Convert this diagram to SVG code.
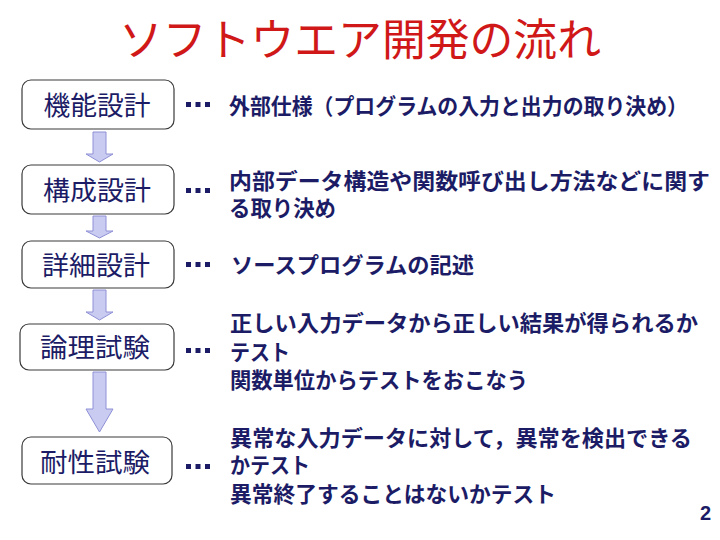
<svg xmlns="http://www.w3.org/2000/svg" width="720" height="540" viewBox="0 0 720 540">
<style>
.title{font-family:"Noto Sans CJK JP","Noto Sans",sans-serif;font-size:44px;fill:#d01818;}
.box{fill:#ffffff;stroke:#3a3a3a;stroke-width:1.2;}
.lbl{font-family:"Noto Sans CJK JP","Noto Sans",sans-serif;font-size:26.5px;fill:#1c1c66;text-anchor:middle;}
.desc{font-family:"Noto Sans CJK JP","Noto Sans",sans-serif;font-size:22px;font-weight:700;fill:#1c1c66;}
.dot{fill:#1c1c66;}
.arr{fill:#c9cbf1;stroke:#8e90d6;stroke-width:1;}
.pg{font-family:"Liberation Sans",Arial,sans-serif;font-size:20px;font-weight:700;fill:#1c1c66;}
</style>
<defs>
<g id="dots"><rect class="dot" x="0" y="0" width="5" height="5"/><rect class="dot" x="9.5" y="0" width="5" height="5"/><rect class="dot" x="19" y="0" width="5" height="5"/></g>
</defs>
<rect width="720" height="540" fill="#ffffff"/>
<text class="title" x="119" y="56" textLength="482" lengthAdjust="spacingAndGlyphs">ソフトウエア開発の流れ</text>

<g id="connectors">
<polygon class="arr" points="93,132 106,132 106,154 113,154 99.5,162 86,154 93,154"/>
<polygon class="arr" points="93,216 106,216 106,231 113,231 99.5,238 86,231 93,231"/>
<polygon class="arr" points="93,290 106,290 106,312 113,312 99.5,320 86,312 93,312"/>
<polygon class="arr" points="93,372 106,372 106,409 113,409 99.5,432 86,409 93,409"/>
</g>

<g id="node1">
<rect class="box" x="22" y="80" width="152" height="49" rx="9"/>
<text class="lbl" x="97" y="115" textLength="107" lengthAdjust="spacingAndGlyphs">機能設計</text>
</g>
<g id="node2">
<rect class="box" x="22" y="165" width="152" height="49" rx="9"/>
<text class="lbl" x="97" y="200" textLength="108" lengthAdjust="spacingAndGlyphs">構成設計</text>
</g>
<g id="node3">
<rect class="box" x="22" y="241" width="152" height="47" rx="9"/>
<text class="lbl" x="96" y="275" textLength="108" lengthAdjust="spacingAndGlyphs">詳細設計</text>
</g>
<g id="node4">
<rect class="box" x="20" y="324" width="154" height="46" rx="9"/>
<text class="lbl" x="95" y="357" textLength="110" lengthAdjust="spacingAndGlyphs">論理試験</text>
</g>
<g id="node5">
<rect class="box" x="22" y="437" width="150" height="47" rx="9"/>
<text class="lbl" x="95" y="472" textLength="110" lengthAdjust="spacingAndGlyphs">耐性試験</text>
</g>

<g id="desc1">
<use href="#dots" x="186" y="102"/>
<text class="desc" x="229" y="114" textLength="459" lengthAdjust="spacingAndGlyphs">外部仕様（プログラムの入力と出力の取り決め）</text>
</g>
<g id="desc2">
<use href="#dots" x="186" y="188"/>
<text class="desc" x="229" y="189" textLength="481" lengthAdjust="spacingAndGlyphs">内部データ構造や関数呼び出し方法などに関す</text>
<text class="desc" x="229" y="216" textLength="107" lengthAdjust="spacingAndGlyphs">る取り決め</text>
</g>
<g id="desc3">
<use href="#dots" x="186" y="262"/>
<text class="desc" x="231" y="273" textLength="243" lengthAdjust="spacingAndGlyphs">ソースプログラムの記述</text>
</g>
<g id="desc4">
<use href="#dots" x="186" y="348"/>
<text class="desc" x="230" y="331" textLength="468" lengthAdjust="spacingAndGlyphs">正しい入力データから正しい結果が得られるか</text>
<text class="desc" x="230" y="360" textLength="60" lengthAdjust="spacingAndGlyphs">テスト</text>
<text class="desc" x="230" y="388" textLength="298" lengthAdjust="spacingAndGlyphs">関数単位からテストをおこなう</text>
</g>
<g id="desc5">
<use href="#dots" x="186" y="464"/>
<text class="desc" x="230" y="446" textLength="462" lengthAdjust="spacingAndGlyphs">異常な入力データに対して，異常を検出できる</text>
<text class="desc" x="230" y="473" textLength="80" lengthAdjust="spacingAndGlyphs">かテスト</text>
<text class="desc" x="230" y="502" textLength="326" lengthAdjust="spacingAndGlyphs">異常終了することはないかテスト</text>
</g>
<text class="pg" x="700" y="520">2</text>
</svg>
